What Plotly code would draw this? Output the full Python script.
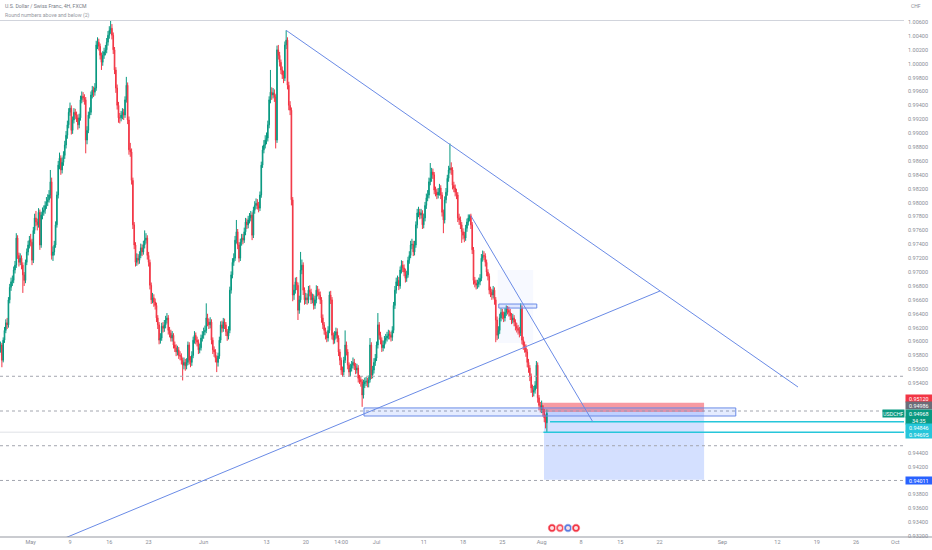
import pandas as pd
import plotly.graph_objects as go

# USD/CHF 4H (FXCM), bars from Tue 26 Apr 2022 00:00, prices in 1e-4 units
first_open = 9580
closes = [
    9588, 9595, 9573, 9602, 9616, 9627, 9624, 9660, 9678, 9686,
    9688, 9703, 9710, 9749, 9724, 9714, 9720, 9710, 9696, 9688,
    9714, 9729, 9739, 9746, 9743, 9717, 9760, 9778, 9772, 9768,
    9786, 9739, 9782, 9786, 9789, 9796, 9801, 9804, 9811, 9830,
    9724, 9729, 9739, 9768, 9811, 9854, 9864, 9847, 9858, 9868,
    9883, 9897, 9912, 9930, 9936, 9904, 9919, 9930, 9926, 9922,
    9912, 9922, 9948, 9953, 9951, 9948, 9890, 9904, 9926, 9930,
    9955, 9962, 9959, 9965, 10027, 10031, 10025, 10012, 10002, 10012,
    10017, 10020, 10031, 10041, 10048, 10051, 10041, 10020, 9991, 9965,
    9940, 9922, 9922, 9926, 9930, 9926, 9948, 9969, 9919, 9876,
    9873, 9832, 9768, 9739, 9714, 9720, 9717, 9724, 9735, 9729,
    9739, 9746, 9749, 9724, 9714, 9681, 9660, 9663, 9657, 9652,
    9634, 9624, 9602, 9605, 9622, 9619, 9624, 9631, 9634, 9616,
    9612, 9605, 9609, 9595, 9591, 9585, 9588, 9580, 9579, 9573,
    9566, 9570, 9565, 9570, 9595, 9573, 9570, 9580, 9602, 9609,
    9602, 9599, 9588, 9591, 9605, 9609, 9614, 9616, 9634, 9628,
    9624, 9628, 9602, 9588, 9585, 9576, 9570, 9579, 9602, 9624,
    9619, 9628, 9624, 9614, 9608, 9616, 9674, 9696, 9714, 9720,
    9746, 9758, 9739, 9720, 9743, 9749, 9746, 9758, 9772, 9768,
    9775, 9778, 9782, 9753, 9789, 9796, 9799, 9796, 9792, 9811,
    9854, 9876, 9883, 9890, 9893, 9912, 9948, 9959, 9955, 9958,
    9952, 9890, 10020, 10012, 10002, 9991, 9984, 9979, 10027, 10034,
    9969, 9940, 9933, 9804, 9667, 9674, 9686, 9681, 9645, 9660,
    9703, 9710, 9674, 9660, 9663, 9660, 9674, 9671, 9660, 9663,
    9652, 9660, 9674, 9671, 9667, 9660, 9634, 9624, 9616, 9609,
    9605, 9616, 9667, 9660, 9609, 9602, 9609, 9614, 9605, 9585,
    9573, 9559, 9556, 9573, 9595, 9585, 9566, 9556, 9562, 9566,
    9570, 9565, 9559, 9562, 9547, 9545, 9542, 9523, 9539, 9542,
    9543, 9540, 9545, 9595, 9552, 9559, 9570, 9576, 9595, 9624,
    9609, 9602, 9591, 9595, 9602, 9605, 9608, 9611, 9609, 9606,
    9616, 9652, 9674, 9686, 9688, 9680, 9703, 9710, 9706, 9700,
    9691, 9696, 9717, 9724, 9739, 9740, 9729, 9739, 9768, 9785,
    9786, 9782, 9785, 9768, 9778, 9796, 9807, 9811, 9830, 9835,
    9844, 9840, 9818, 9815, 9811, 9815, 9821, 9811, 9786, 9775,
    9804, 9815, 9835, 9847, 9850, 9847, 9825, 9821, 9815, 9811,
    9778, 9775, 9768, 9758, 9753, 9749, 9763, 9772, 9778, 9781,
    9768, 9732, 9688, 9684, 9681, 9683, 9686, 9691, 9720, 9724,
    9723, 9714, 9700, 9694, 9674, 9671, 9667, 9674, 9660, 9631,
    9609, 9616, 9634, 9642, 9638, 9634, 9642, 9648, 9645, 9642,
    9637, 9631, 9634, 9628, 9622, 9619, 9616, 9612, 9648, 9602,
    9595, 9591, 9585, 9570, 9562, 9550, 9533, 9527, 9530, 9537,
    9566, 9519, 9508, 9504, 9508, 9498, 9490, 9483, 9496.8,
]
highs = [
    9594, 9600, 9598, 9606, 9621, 9632, 9634, 9664, 9683, 9692,
    9695, 9708, 9716, 9756, 9753, 9728, 9727, 9724, 9714, 9700,
    9718, 9734, 9745, 9752, 9755, 9748, 9765, 9784, 9788, 9777,
    9792, 9790, 9787, 9793, 9796, 9802, 9808, 9812, 9818, 9847,
    9836, 9737, 9745, 9773, 9816, 9860, 9872, 9868, 9865, 9874,
    9889, 9903, 9918, 9936, 9944, 9940, 9924, 9936, 9935, 9931,
    9927, 9928, 9954, 9960, 9959, 9956, 9952, 9910, 9931, 9937,
    9960, 9968, 9967, 9972, 10033, 10038, 10036, 10029, 10016, 10018,
    10023, 10027, 10037, 10047, 10054, 10062, 10057, 10045, 10024, 9995,
    9970, 9945, 9929, 9932, 9936, 9935, 9953, 9981, 9973, 9924,
    9886, 9878, 9836, 9772, 9743, 9727, 9726, 9730, 9741, 9740,
    9745, 9760, 9756, 9753, 9729, 9718, 9685, 9670, 9668, 9662,
    9656, 9638, 9628, 9612, 9627, 9628, 9631, 9637, 9641, 9638,
    9621, 9617, 9615, 9612, 9600, 9596, 9594, 9592, 9586, 9583,
    9577, 9577, 9575, 9576, 9600, 9599, 9579, 9586, 9607, 9615,
    9613, 9607, 9603, 9597, 9610, 9615, 9620, 9623, 9655, 9640,
    9633, 9635, 9632, 9606, 9593, 9589, 9580, 9584, 9607, 9629,
    9630, 9634, 9633, 9628, 9618, 9622, 9679, 9701, 9720, 9727,
    9752, 9775, 9762, 9743, 9748, 9755, 9755, 9764, 9778, 9777,
    9781, 9785, 9788, 9786, 9794, 9802, 9806, 9805, 9801, 9816,
    9859, 9882, 9890, 9897, 9901, 9918, 9953, 9991, 9966, 9965,
    9963, 9956, 10026, 10027, 10017, 10006, 9996, 9990, 10032, 10048,
    10038, 9974, 9946, 9937, 9808, 9682, 9692, 9693, 9685, 9666,
    9729, 9718, 9714, 9678, 9670, 9669, 9680, 9681, 9676, 9669,
    9668, 9666, 9681, 9680, 9676, 9672, 9664, 9639, 9628, 9620,
    9614, 9622, 9672, 9673, 9664, 9613, 9615, 9620, 9619, 9609,
    9589, 9577, 9564, 9578, 9616, 9600, 9589, 9570, 9568, 9572,
    9577, 9575, 9569, 9568, 9566, 9552, 9550, 9546, 9545, 9548,
    9549, 9548, 9551, 9605, 9599, 9565, 9576, 9582, 9600, 9641,
    9628, 9614, 9606, 9601, 9608, 9611, 9614, 9617, 9616, 9614,
    9622, 9657, 9680, 9692, 9695, 9693, 9708, 9717, 9716, 9711,
    9705, 9702, 9722, 9730, 9745, 9748, 9745, 9745, 9773, 9791,
    9794, 9791, 9791, 9789, 9784, 9801, 9813, 9818, 9836, 9857,
    9850, 9849, 9844, 9823, 9820, 9821, 9827, 9825, 9815, 9790,
    9809, 9821, 9840, 9853, 9885, 9858, 9851, 9830, 9826, 9820,
    9815, 9784, 9780, 9772, 9763, 9758, 9768, 9777, 9783, 9783,
    9784, 9772, 9736, 9693, 9689, 9689, 9692, 9697, 9726, 9731,
    9730, 9727, 9718, 9704, 9698, 9679, 9676, 9680, 9678, 9664,
    9636, 9622, 9640, 9648, 9647, 9643, 9648, 9652, 9651, 9650,
    9647, 9641, 9640, 9638, 9632, 9627, 9624, 9621, 9655, 9652,
    9607, 9600, 9596, 9589, 9575, 9566, 9554, 9538, 9536, 9543,
    9572, 9570, 9523, 9513, 9515, 9512, 9503, 9495, 9502,
]
lows = [
    9575, 9584, 9563, 9570, 9598, 9612, 9618, 9620, 9655, 9673,
    9680, 9684, 9698, 9706, 9719, 9708, 9710, 9704, 9670, 9680,
    9684, 9710, 9724, 9734, 9737, 9710, 9713, 9755, 9766, 9760,
    9764, 9732, 9735, 9776, 9781, 9784, 9791, 9795, 9800, 9806,
    9718, 9716, 9724, 9735, 9764, 9806, 9848, 9840, 9842, 9853,
    9863, 9878, 9892, 9907, 9925, 9898, 9899, 9914, 9920, 9916,
    9905, 9907, 9918, 9943, 9945, 9941, 9871, 9884, 9900, 9921,
    9926, 9950, 9952, 9954, 9961, 10021, 10019, 10006, 9991, 9997,
    10007, 10012, 10015, 10026, 10036, 10043, 10035, 10014, 9985, 9958,
    9934, 9915, 9914, 9917, 9920, 9919, 9922, 9944, 9913, 9869,
    9866, 9826, 9762, 9733, 9708, 9709, 9711, 9712, 9720, 9723,
    9725, 9734, 9741, 9718, 9708, 9675, 9654, 9655, 9650, 9646,
    9628, 9618, 9596, 9597, 9601, 9613, 9614, 9619, 9626, 9610,
    9606, 9600, 9600, 9590, 9585, 9579, 9580, 9575, 9573, 9567,
    9544, 9560, 9558, 9560, 9566, 9567, 9563, 9565, 9576, 9597,
    9596, 9593, 9582, 9583, 9587, 9600, 9604, 9609, 9612, 9622,
    9618, 9619, 9596, 9582, 9578, 9570, 9556, 9564, 9575, 9598,
    9613, 9614, 9618, 9608, 9601, 9603, 9612, 9669, 9691, 9709,
    9716, 9741, 9733, 9714, 9716, 9738, 9740, 9742, 9753, 9762,
    9763, 9770, 9773, 9746, 9749, 9784, 9791, 9790, 9786, 9788,
    9807, 9850, 9871, 9878, 9884, 9888, 9907, 9943, 9948, 9950,
    9945, 9878, 9886, 10006, 9996, 9985, 9978, 9972, 9975, 10021,
    9963, 9933, 9926, 9796, 9658, 9660, 9669, 9674, 9631, 9640,
    9656, 9697, 9667, 9653, 9654, 9653, 9655, 9665, 9654, 9655,
    9646, 9647, 9655, 9665, 9661, 9654, 9627, 9618, 9610, 9603,
    9599, 9600, 9612, 9654, 9603, 9596, 9597, 9604, 9599, 9579,
    9566, 9552, 9549, 9551, 9569, 9580, 9560, 9549, 9550, 9557,
    9561, 9559, 9553, 9554, 9541, 9539, 9535, 9506, 9518, 9533,
    9536, 9534, 9534, 9541, 9546, 9547, 9554, 9565, 9572, 9590,
    9603, 9596, 9585, 9586, 9590, 9597, 9600, 9603, 9603, 9600,
    9601, 9612, 9647, 9669, 9680, 9674, 9676, 9698, 9700, 9694,
    9685, 9686, 9692, 9712, 9720, 9733, 9723, 9724, 9735, 9763,
    9779, 9776, 9777, 9762, 9763, 9773, 9791, 9802, 9806, 9825,
    9830, 9834, 9812, 9809, 9805, 9806, 9810, 9805, 9780, 9756,
    9770, 9799, 9810, 9830, 9842, 9840, 9819, 9815, 9809, 9805,
    9772, 9768, 9762, 9742, 9747, 9743, 9745, 9758, 9767, 9773,
    9762, 9726, 9682, 9678, 9675, 9676, 9678, 9681, 9687, 9715,
    9717, 9708, 9694, 9688, 9668, 9664, 9660, 9662, 9653, 9599,
    9602, 9604, 9611, 9629, 9632, 9628, 9629, 9637, 9639, 9636,
    9631, 9625, 9626, 9622, 9616, 9613, 9610, 9606, 9608, 9596,
    9588, 9584, 9578, 9563, 9555, 9543, 9526, 9520, 9521, 9525,
    9532, 9512, 9501, 9498, 9497, 9492, 9484, 9475, 9469.5,
]

tick_dates = ["2022-05-02", "2022-05-09", "2022-05-16", "2022-05-23", "2022-06-01",
              "2022-06-13", "2022-06-20", "2022-06-24 12:00", "2022-07-01", "2022-07-11",
              "2022-07-18", "2022-07-25", "2022-08-01", "2022-08-08", "2022-08-15",
              "2022-08-22", "2022-09-01", "2022-09-12", "2022-09-19", "2022-09-26",
              "2022-10-03"]
tick_text = ["May", "9", "16", "23", "Jun", "13", "20", "14:00", "Jul", "11", "18", "25",
             "Aug", "8", "15", "22", "Sep", "12", "19", "26", "Oct"]
# price scale labels that TradingView leaves visible
price_ticks = [1.006, 1.004, 1.002, 1.000, 0.998, 0.996, 0.994, 0.992, 0.990, 0.988,
               0.986, 0.984, 0.982, 0.980, 0.978, 0.976, 0.974, 0.972, 0.970, 0.968,
               0.966, 0.964, 0.962, 0.960, 0.958, 0.956, 0.954, 0.944, 0.942, 0.938,
               0.936, 0.934, 0.932]

round_levels = [0.955, 0.950, 0.945, 0.940]
stop_price, entry_price, target_price = 0.95120, 0.94986, 0.94011
last_price = 0.94968
cyan_levels = [0.94846, 0.94695]
peak_level = 1.00622

# drawings: (bar index, price) anchors
trend_lines = [((219, 1.0048), (609.7, 0.95345)),
               ((45, 0.93131), (504.4, 0.96728)),
               ((360, 0.9781), (453, 0.94846))]
zone_box = ((278.4, 0.95044), (562.2, 0.94928))
small_box = ((381.3, 0.96540), (410.3, 0.96482))
glow_box = ((380.5, 0.97030), (407.5, 0.95979))
position_span = (415.8, 538.0)

UP, DOWN = "#089981", "#f23645"
TREND = "#6a8be6"
GREY_TXT = "#8a8d96"
FONT = "Roboto"
W, H = 904, 537  # plot area in pixels


days = pd.bdate_range("2022-04-26", periods=130)


def bar_time(k):
    d = int(k // 6)
    return days[d] + pd.Timedelta(hours=4 * (k - 6 * d))


def px(x):
    return x / W


def py(y):
    return 1 - y / H


times = [bar_time(i) for i in range(len(closes))]
c = [v / 10000 for v in closes]
h = [v / 10000 for v in highs]
l = [v / 10000 for v in lows]
o = [first_open / 10000] + c[:-1]

fig = go.Figure(go.Candlestick(
    x=times, open=o, high=h, low=l, close=c,
    increasing=dict(line=dict(color=UP, width=1), fillcolor=UP),
    decreasing=dict(line=dict(color=DOWN, width=1), fillcolor=DOWN),
    whiskerwidth=0, showlegend=False, hoverinfo="skip"))

shapes = []
far_right = bar_time(700)
left_edge = bar_time(0)

# top horizontal at the May high
shapes.append(dict(type="line", xref="paper", yref="y", x0=0, x1=1,
                   y0=peak_level, y1=peak_level, line=dict(color="#d1d4dc", width=1)))
# round numbers indicator
for lv in round_levels:
    shapes.append(dict(type="line", xref="paper", yref="y", x0=0, x1=1, y0=lv, y1=lv,
                       line=dict(color="#a3a6af", width=1, dash="3px,3px")))

# faint highlight and small box
shapes.append(dict(type="rect", x0=bar_time(glow_box[0][0]), x1=bar_time(glow_box[1][0]),
                   y0=glow_box[0][1], y1=glow_box[1][1], line=dict(width=0),
                   fillcolor="rgba(41,98,255,0.035)", layer="below"))
shapes.append(dict(type="rect", x0=bar_time(small_box[0][0]), x1=bar_time(small_box[1][0]),
                   y0=small_box[0][1], y1=small_box[1][1],
                   line=dict(color=TREND, width=1), fillcolor="rgba(41,98,255,0.12)"))

# short position tool
p0, p1 = bar_time(position_span[0]), bar_time(position_span[1])
shapes.append(dict(type="rect", x0=p0, x1=p1, y0=entry_price, y1=target_price,
                   line=dict(width=0), fillcolor="rgba(41,98,255,0.2)", layer="below"))
shapes.append(dict(type="rect", x0=p0, x1=p1, y0=entry_price, y1=stop_price,
                   line=dict(width=0), fillcolor="rgba(242,54,69,0.5)", layer="below"))

# support zone
shapes.append(dict(type="rect", x0=bar_time(zone_box[0][0]), x1=bar_time(zone_box[1][0]),
                   y0=zone_box[0][1], y1=zone_box[1][1],
                   line=dict(color=TREND, width=1), fillcolor="rgba(41,98,255,0.12)"))

# cyan levels and the grey extension to the left
shapes.append(dict(type="line", x0=left_edge, x1=bar_time(415.3), y0=cyan_levels[1],
                   y1=cyan_levels[1], line=dict(color="#dfe1e6", width=1)))
shapes.append(dict(type="line", x0=bar_time(420.4), x1=far_right, y0=cyan_levels[0],
                   y1=cyan_levels[0], line=dict(color="#26c6da", width=1.5)))
shapes.append(dict(type="line", x0=bar_time(415.3), x1=far_right, y0=cyan_levels[1],
                   y1=cyan_levels[1], line=dict(color="#26c6da", width=1.5)))

for (a, b) in trend_lines:
    shapes.append(dict(type="line", x0=bar_time(a[0]), y0=a[1], x1=bar_time(b[0]), y1=b[1],
                       line=dict(color=TREND, width=1)))

# bottom axis line running under the price scale
shapes.append(dict(type="line", xref="paper", yref="paper", x0=0, x1=932 / W, y0=0, y1=0,
                   line=dict(color="#9598a1", width=1)))

# event badges near the last bar
for cx, col in [(552, "#f23645"), (560, "#f7525f"), (568, "#5b7ce0"), (576, "#f23645")]:
    r = 4.2
    shapes.append(dict(type="circle", xref="paper", yref="paper",
                       x0=px(cx - r), x1=px(cx + r), y0=py(528 + r), y1=py(528 - r),
                       line=dict(color="#ffffff", width=0.8), fillcolor=col))
    shapes.append(dict(type="circle", xref="paper", yref="paper",
                       x0=px(cx - 2), x1=px(cx + 2), y0=py(530), y1=py(526),
                       line=dict(width=0), fillcolor="#fbe3e5"))

annotations = [
    dict(xref="paper", yref="paper", x=px(3), y=py(6.5), xanchor="left", yanchor="middle",
         text="U.S. Dollar / Swiss Franc, 4H, FXCM", showarrow=False,
         font=dict(family=FONT, size=5.2, color="#787b86")),
    dict(xref="paper", yref="paper", x=px(3), y=py(15), xanchor="left", yanchor="middle",
         text="Round numbers above and below (2)", showarrow=False,
         font=dict(family=FONT, size=5.2, color="#9598a1")),
    dict(xref="paper", yref="paper", x=px(909), y=py(6), xanchor="left", yanchor="middle",
         text="CHF", showarrow=False, font=dict(family=FONT, size=5, color=GREY_TXT)),
]


def axis_tag(text, y, color, x=905, w=25):
    return dict(xref="paper", yref="paper", x=px(x), y=py(y), xanchor="left",
                yanchor="middle", text=text, showarrow=False, bgcolor=color,
                font=dict(family=FONT, size=5.4, color="white"),
                width=w, height=6.4, borderpad=0.3, align="center")


annotations += [
    axis_tag("%.5f" % stop_price, 398, "#f23645"),
    axis_tag("%.5f" % entry_price, 405.5, "#6a6d78"),
    axis_tag("%.5f" % last_price, 413.3, UP),
    axis_tag("34:35", 420.3, UP),
    axis_tag("%.5f" % cyan_levels[0], 427.5, "#26c6da"),
    axis_tag("%.5f" % cyan_levels[1], 434.5, "#26c6da"),
    axis_tag("%.5f" % target_price, 480.5, "#2962ff"),
    axis_tag("USDCHF", 413.7, UP, x=882, w=20),
]

fig.update_layout(
    width=932, height=550, autosize=False,
    margin=dict(l=0, r=28, t=0, b=13),
    paper_bgcolor="white", plot_bgcolor="white",
    hovermode=False, dragmode=False, showlegend=False,
    shapes=shapes, annotations=annotations,
    xaxis=dict(type="date", rangebreaks=[dict(bounds=["sat", "mon"])],
               range=[bar_time(0.565), bar_time(690.6)],
               tickvals=tick_dates, ticktext=tick_text, tickangle=0,
               showgrid=False, zeroline=False, showline=False, ticks="",
               tickfont=dict(family=FONT, size=5.5, color=GREY_TXT),
               rangeslider=dict(visible=False), fixedrange=True),
    yaxis=dict(side="right", range=[0.93186, 1.00917],
               tickvals=price_ticks, ticktext=["%.5f" % v for v in price_ticks],
               showgrid=False, zeroline=False, showline=False, ticks="",
               ticklabelstandoff=3,
               tickfont=dict(family=FONT, size=5.5, color=GREY_TXT), fixedrange=True),
)

# the page's default body margin would shift the figure by 8px
fig.write_html("out.html", config={"displayModeBar": False},
               post_script="document.body.style.margin='0px';")
